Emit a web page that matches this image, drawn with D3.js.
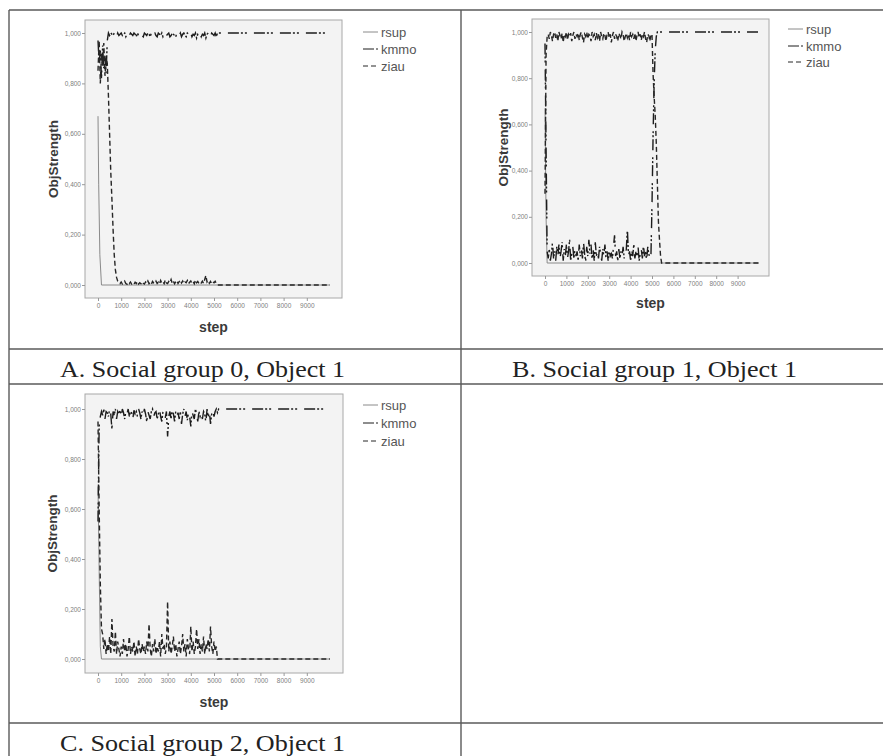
<!DOCTYPE html>
<html>
<head>
<meta charset="utf-8">
<script src="https://cdn.jsdelivr.net/npm/d3@7"></script>
<style>
  body { margin: 0; background: #fff; }
  svg { display: block; }
</style>
</head>
<body>
<svg id="fig" width="883" height="756"></svg>
<script>
// step grid shared by the noisy series (0..5500 every 50, then the end of the run)
const steps = [
  0, 50, 100, 150, 200, 250, 300, 350, 400, 450,
  500, 550, 600, 650, 700, 750, 800, 850, 900, 950,
  1000, 1050, 1100, 1150, 1200, 1250, 1300, 1350, 1400, 1450,
  1500, 1550, 1600, 1650, 1700, 1750, 1800, 1850, 1900, 1950,
  2000, 2050, 2100, 2150, 2200, 2250, 2300, 2350, 2400, 2450,
  2500, 2550, 2600, 2650, 2700, 2750, 2800, 2850, 2900, 2950,
  3000, 3050, 3100, 3150, 3200, 3250, 3300, 3350, 3400, 3450,
  3500, 3550, 3600, 3650, 3700, 3750, 3800, 3850, 3900, 3950,
  4000, 4050, 4100, 4150, 4200, 4250, 4300, 4350, 4400, 4450,
  4500, 4550, 4600, 4650, 4700, 4750, 4800, 4850, 4900, 4950,
  5000, 5050, 5100, 5150, 5200, 5250, 5300, 5350, 5400, 5450,
  5500, 10000
];

// A. Social group 0
const rsupStepsA = [0, 30, 80, 150, 10000];
const rsupA = [0.67, 0.40, 0.12, 0, 0];
const kmmoA = [
  0.97, 0.88, 0.93, 0.82, 0.95, 0.86, 0.91, 0.84, 0.97, 1.00,
  0.99, 1.00, 0.995, 0.99, 1.00, 0.995, 0.985, 1.00, 0.99, 0.995,
  1.00, 0.99, 0.995, 1.00, 0.985, 0.995, 1.00, 0.99, 1.00, 0.995,
  0.99, 1.00, 0.995, 0.985, 1.00, 0.99, 0.995, 1.00, 0.99, 0.985,
  1.00, 0.995, 0.99, 1.00, 0.995, 0.985, 1.00, 0.99, 0.995, 1.00,
  0.99, 0.985, 1.00, 0.995, 0.99, 1.00, 0.985, 0.995, 1.00, 0.99,
  0.995, 1.00, 0.985, 0.99, 1.00, 0.995, 0.99, 0.985, 1.00, 0.995,
  0.99, 1.00, 0.985, 0.995, 1.00, 0.99, 0.985, 1.00, 0.995, 0.99,
  1.00, 0.985, 0.995, 0.99, 1.00, 0.98, 0.995, 0.99, 1.00, 0.985,
  0.995, 0.99, 1.00, 0.98, 0.995, 1.00, 0.99, 0.985, 1.00, 0.995,
  0.99, 1.00, 0.985, 1.00, 1.00, 1.00, 1.00, 1.00, 1.00, 1.00,
  1.00, 1.00
];
const ziauA = [
  0.85, 0.97, 0.80, 0.92, 0.87, 0.96, 0.83, 0.90, 0.88, 0.75,
  0.60, 0.45, 0.34, 0.22, 0.12, 0.06, 0.03, 0.015, 0.010, 0.005,
  0.012, 0.004, 0.008, 0.015, 0.006, 0.003, 0.010, 0.005, 0.012, 0.004,
  0.008, 0.003, 0.011, 0.006, 0.014, 0.004, 0.009, 0.005, 0.013, 0.007,
  0.004, 0.012, 0.006, 0.016, 0.005, 0.010, 0.003, 0.014, 0.008, 0.005,
  0.015, 0.006, 0.011, 0.004, 0.018, 0.007, 0.012, 0.005, 0.020, 0.008,
  0.006, 0.014, 0.009, 0.022, 0.007, 0.015, 0.005, 0.012, 0.018, 0.006,
  0.013, 0.020, 0.008, 0.016, 0.006, 0.012, 0.009, 0.018, 0.005, 0.011,
  0.016, 0.007, 0.013, 0.005, 0.020, 0.009, 0.014, 0.006, 0.012, 0.008,
  0.015, 0.006, 0.022, 0.038, 0.012, 0.018, 0.007, 0.014, 0.005, 0.012,
  0.009, 0.015, 0.006, 0, 0, 0, 0, 0, 0, 0,
  0, 0
];

// B. Social group 1
const rsupStepsB = [0, 50, 100, 10000];
const rsupB = [0.67, 0.20, 0, 0];
const kmmoB = [
  0.95, 0.50, 0.05, 0.02, 0.06, 0.01, 0.04, 0.09, 0.02, 0.05,
  0.01, 0.07, 0.03, 0.08, 0.02, 0.05, 0.09, 0.01, 0.06, 0.03,
  0.08, 0.02, 0.05, 0.10, 0.01, 0.04, 0.07, 0.02, 0.06, 0.03,
  0.05, 0.01, 0.08, 0.03, 0.06, 0.02, 0.09, 0.04, 0.01, 0.07,
  0.03, 0.10, 0.04, 0.08, 0.02, 0.06, 0.01, 0.09, 0.03, 0.05,
  0.02, 0.07, 0.04, 0.01, 0.06, 0.03, 0.08, 0.02, 0.05, 0.01,
  0.06, 0.03, 0.04, 0.02, 0.07, 0.12, 0.03, 0.05, 0.01, 0.06,
  0.02, 0.05, 0.03, 0.07, 0.02, 0.04, 0.06, 0.15, 0.03, 0.05,
  0.01, 0.06, 0.03, 0.08, 0.02, 0.05, 0.03, 0.07, 0.01, 0.04,
  0.06, 0.02, 0.08, 0.03, 0.05, 0.01, 0.07, 0.04, 0.02, 0.03,
  0.25, 0.55, 0.78, 0.92, 0.98, 1.00, 1.00, 1.00, 1.00, 1.00,
  1.00, 1.00
];
const ziauB = [
  0.30, 0.90, 0.98, 0.99, 0.97, 1.00, 0.985, 0.96, 0.99, 1.00,
  0.975, 0.99, 0.96, 1.00, 0.985, 0.97, 0.995, 0.955, 0.99, 0.98,
  1.00, 0.965, 0.99, 0.98, 0.995, 0.96, 0.985, 1.00, 0.97, 0.99,
  0.98, 0.995, 0.965, 0.99, 1.00, 0.975, 0.955, 0.99, 0.98, 1.00,
  0.97, 0.99, 0.985, 0.96, 1.00, 0.98, 0.99, 0.965, 0.995, 0.975,
  0.99, 0.96, 1.00, 0.98, 0.97, 0.995, 0.985, 0.96, 0.99, 1.00,
  0.975, 0.99, 0.955, 0.985, 1.00, 0.97, 0.99, 0.98, 0.96, 0.995,
  0.985, 0.97, 1.00, 0.99, 0.96, 0.98, 0.995, 0.975, 0.99, 0.965,
  1.00, 0.98, 0.99, 0.97, 0.995, 0.96, 0.985, 1.00, 0.975, 0.99,
  0.965, 0.99, 0.98, 1.00, 0.97, 0.955, 0.99, 0.985, 0.96, 0.99,
  0.99, 0.82, 0.72, 0.64, 0.52, 0.35, 0.18, 0.10, 0.03, 0,
  0, 0
];

// C. Social group 2
const rsupStepsC = [0, 50, 100, 150, 10000];
const rsupC = [0.69, 0.35, 0.05, 0, 0];
const kmmoC = [
  0.55, 0.93, 0.97, 0.99, 0.975, 1.00, 0.96, 0.99, 0.985, 0.97,
  1.00, 0.98, 0.92, 0.99, 0.975, 1.00, 0.96, 0.99, 0.98, 0.995,
  0.97, 1.00, 0.985, 0.96, 0.99, 0.98, 1.00, 0.97, 0.99, 0.985,
  0.96, 0.995, 0.98, 0.99, 0.97, 1.00, 0.985, 0.96, 0.99, 0.975,
  1.00, 0.98, 0.95, 0.99, 0.975, 0.96, 0.99, 1.00, 0.97, 0.985,
  0.99, 0.96, 0.98, 1.00, 0.97, 0.95, 0.99, 0.98, 0.965, 0.99,
  0.89, 0.97, 0.99, 0.96, 1.00, 0.98, 0.95, 0.99, 0.97, 0.985,
  0.96, 0.99, 0.94, 0.98, 1.00, 0.97, 0.99, 0.955, 0.985, 0.97,
  0.93, 0.99, 0.975, 0.96, 1.00, 0.98, 0.95, 0.99, 0.97, 0.985,
  0.96, 0.99, 0.98, 0.945, 1.00, 0.97, 0.99, 0.94, 0.98, 0.995,
  0.97, 0.99, 1.00, 0.985, 1.00, 1.00, 1.00, 1.00, 1.00, 1.00,
  1.00, 1.00
];
const ziauC = [
  0.95, 0.60, 0.30, 0.12, 0.10, 0.04, 0.08, 0.02, 0.06, 0.03,
  0.09, 0.02, 0.16, 0.05, 0.03, 0.11, 0.02, 0.07, 0.04, 0.01,
  0.05, 0.02, 0.08, 0.03, 0.06, 0.01, 0.04, 0.09, 0.02, 0.05,
  0.03, 0.07, 0.01, 0.05, 0.02, 0.08, 0.04, 0.02, 0.06, 0.03,
  0.05, 0.02, 0.07, 0.03, 0.14, 0.04, 0.01, 0.06, 0.03, 0.08,
  0.02, 0.05, 0.03, 0.07, 0.01, 0.10, 0.04, 0.06, 0.02, 0.05,
  0.23, 0.03, 0.07, 0.02, 0.05, 0.09, 0.03, 0.06, 0.01, 0.04,
  0.07, 0.02, 0.05, 0.10, 0.03, 0.06, 0.01, 0.08, 0.04, 0.02,
  0.13, 0.03, 0.07, 0.02, 0.05, 0.12, 0.04, 0.08, 0.02, 0.06,
  0.03, 0.09, 0.02, 0.06, 0.04, 0.08, 0.03, 0.13, 0.05, 0.02,
  0.07, 0.03, 0.05, 0, 0, 0, 0, 0, 0, 0,
  0, 0
];

const seriesNames = ['rsup', 'kmmo', 'ziau'];
const xTicks = [0, 1000, 2000, 3000, 4000, 5000, 6000, 7000, 8000, 9000];
const yTicks = [0, 0.2, 0.4, 0.6, 0.8, 1.0];
const captions = ['A. Social group 0, Object 1', 'B. Social group 1, Object 1', 'C. Social group 2, Object 1'];

// line looks per series
const styles = {
  rsup: { stroke: '#8a8a8a', width: 1, dash: null },
  kmmo: { stroke: '#1c1c1c', width: 1.4, dash: '11,2,2,2,2,7' },
  ziau: { stroke: '#262626', width: 1.4, dash: '5,3' }
};

// where each panel sits on the page
const panels = [
  { frame: [85, 20, 342, 298], xr: [98, 330], yr: [285, 33], yLabX: 53, stepY: 327,
    legX: 363, legY: [32, 49, 66], capX: 60, capY: 377,
    series: [[rsupStepsA, rsupA], [steps, kmmoA], [steps, ziauA]] },
  { frame: [532, 19, 769, 276], xr: [545, 759], yr: [263, 32], yLabX: 503, stepY: 303,
    legX: 788, legY: [29, 46, 62], capX: 512, capY: 377,
    series: [[rsupStepsB, rsupB], [steps, kmmoB], [steps, ziauB]] },
  { frame: [85, 394, 343, 673], xr: [98, 330], yr: [659, 409], yLabX: 52, stepY: 702,
    legX: 363, legY: [405, 423, 441], capX: 60, capY: 751,
    series: [[rsupStepsC, rsupC], [steps, kmmoC], [steps, ziauC]] }
];

const svg = d3.select('#fig');

// table grid
const grid = svg.append('g').attr('stroke', '#5a5a5a').attr('stroke-width', 1.4);
[[9, 10, 883, 10], [9, 10, 9, 756], [461, 10, 461, 756],
 [9, 349, 883, 349], [9, 384, 883, 384], [9, 723, 883, 723]]
  .forEach(l => grid.append('line').attr('x1', l[0]).attr('y1', l[1]).attr('x2', l[2]).attr('y2', l[3]));

const yFmt = d => d3.format('.3f')(d).replace('.', ',');

panels.forEach((p, i) => {
  const [fx0, fy0, fx1, fy1] = p.frame;
  const x = d3.scaleLinear().domain([0, 10000]).range(p.xr);
  const y = d3.scaleLinear().domain([0, 1]).range(p.yr);
  const g = svg.append('g');

  g.append('rect')
    .attr('x', fx0).attr('y', fy0).attr('width', fx1 - fx0).attr('height', fy1 - fy0)
    .attr('fill', '#f3f3f3').attr('stroke', '#a8a8a8').attr('stroke-width', 1);

  const xAxis = g.append('g').attr('transform', `translate(0,${fy1})`)
    .call(d3.axisBottom(x).tickValues(xTicks).tickSize(3).tickPadding(2).tickFormat(d3.format('d')));
  const yAxis = g.append('g').attr('transform', `translate(${fx0},0)`)
    .call(d3.axisLeft(y).tickValues(yTicks).tickSize(3).tickPadding(1).tickFormat(yFmt));
  [xAxis, yAxis].forEach(a => {
    a.select('.domain').remove();
    a.selectAll('.tick line').attr('stroke', '#999');
    a.selectAll('.tick text').attr('fill', '#808080')
      .style('font-family', 'Liberation Sans, Arial').style('font-size', '6.5px');
  });

  const line = d3.line().x(d => x(d[0])).y(d => y(d[1]));
  p.series.forEach((s, k) => {
    const st = styles[seriesNames[k]];
    const pts = s[0].map((v, j) => [v, s[1][j]]);
    g.append('path').datum(pts)
      .attr('d', line)
      .attr('fill', 'none')
      .attr('stroke', st.stroke)
      .attr('stroke-width', st.width)
      .attr('stroke-dasharray', st.dash);
  });

  g.append('text')
    .attr('transform', `translate(${p.yLabX},${(fy0 + fy1) / 2}) rotate(-90)`)
    .attr('text-anchor', 'middle').attr('dy', '0.35em')
    .style('font-family', 'Liberation Sans, Arial').style('font-weight', 'bold').style('font-size', '13.5px')
    .attr('fill', '#3a3a3a')
    .text('ObjStrength');

  g.append('text')
    .attr('x', (fx0 + fx1) / 2).attr('y', p.stepY).attr('dy', '0.35em')
    .attr('text-anchor', 'middle')
    .style('font-family', 'Liberation Sans, Arial').style('font-weight', 'bold').style('font-size', '14px')
    .attr('fill', '#3a3a3a')
    .text('step');

  // legend
  seriesNames.forEach((name, k) => {
    const st = styles[name];
    g.append('line')
      .attr('x1', p.legX).attr('x2', p.legX + 15)
      .attr('y1', p.legY[k]).attr('y2', p.legY[k])
      .attr('stroke', st.stroke).attr('stroke-width', 1)
      .attr('stroke-dasharray', st.dash);
    g.append('text')
      .attr('x', p.legX + 18).attr('y', p.legY[k]).attr('dy', '0.35em')
      .style('font-family', 'Liberation Sans, Arial').style('font-size', '13px')
      .attr('fill', '#555')
      .text(name);
  });

  svg.append('text')
    .attr('x', p.capX).attr('y', p.capY)
    .attr('textLength', 285).attr('lengthAdjust', 'spacingAndGlyphs')
    .style('font-family', 'Liberation Serif, Times New Roman').style('font-size', '23px')
    .attr('fill', '#222')
    .text(captions[i]);
});
</script>
</body>
</html>
